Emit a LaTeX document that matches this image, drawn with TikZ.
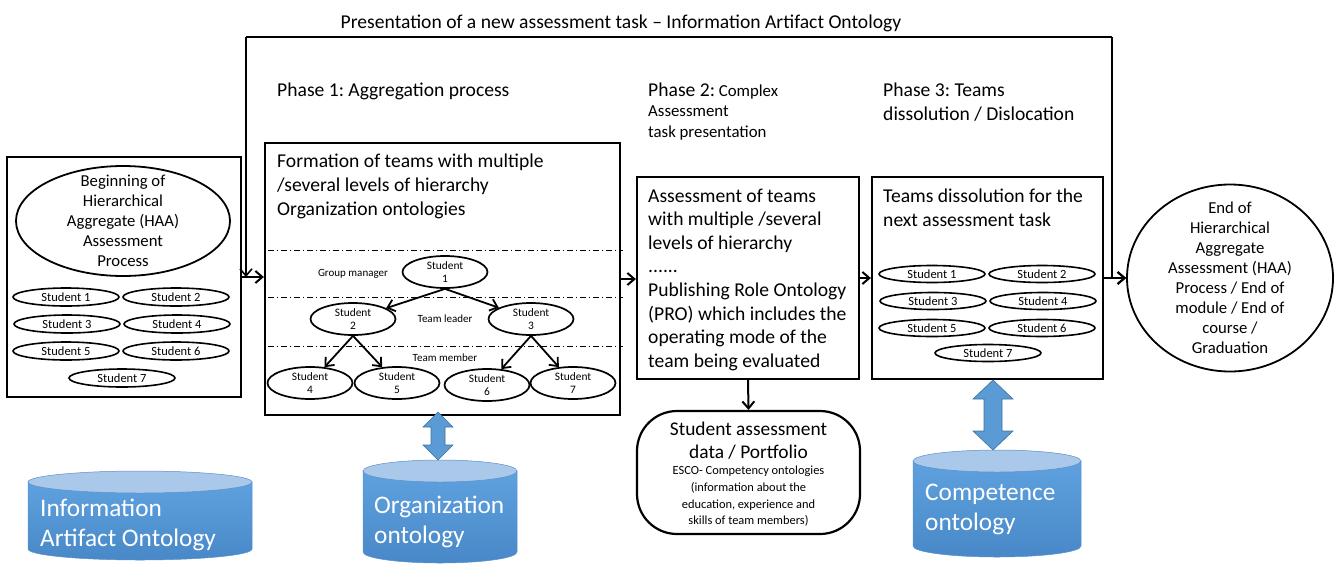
\documentclass[tikz,border=0pt]{standalone}
\usepackage{fontspec}
\setmainfont{Carlito}
\usepackage{tikz}
\usetikzlibrary{arrows, arrows.meta, shapes.geometric}
\frenchspacing

\definecolor{dbtop}{HTML}{A9C8EA}
\definecolor{dbhi}{HTML}{5FA1DE}
\definecolor{dblo}{HTML}{4888C8}
\definecolor{dbline}{HTML}{5B8FC9}
\definecolor{arrfill}{HTML}{5B9BD5}
\definecolor{arrline}{HTML}{41719C}

\tikzset{
  box/.style={draw, line width=2.2pt, inner sep=0pt},
  stud/.style={ellipse, draw, line width=1.6pt, inner sep=0pt, minimum width=106pt, minimum height=18pt, font=\fontsize{12.5}{14}\selectfont},
  tstud/.style={ellipse, draw, line width=1.7pt, inner xsep=0pt, inner ysep=-1pt, minimum width=85pt, minimum height=32pt, align=center, font=\fontsize{11.4}{12.5}\selectfont},
  bigtxt/.style={font=\fontsize{19.6}{24}\selectfont, align=left, inner sep=0pt},
  midtxt/.style={font=\fontsize{16.7}{20}\selectfont, align=center, inner sep=0pt},
  smalltxt/.style={font=\fontsize{11}{12}\selectfont, inner sep=0pt},
  dbtext/.style={font=\fontsize{25.3}{30}\selectfont, text=white, align=left, inner sep=0pt, anchor=north west},
  dblarr/.style={draw=arrline, fill=arrfill, line width=0.6pt, line join=miter},
  >={Straight Barb[length=7pt,width=12pt]},
  link/.style={->, line width=2pt},
}

\begin{document}
\begin{tikzpicture}[x=1pt, y=-1pt]
\useasboundingbox (0,0) rectangle (1337,576);

% headings
\node[bigtxt] (title) at (621,23) {Presentation of a new assessment task – Information Artifact Ontology};
\node[bigtxt, anchor=north west] (ph1) at (277,82.5) {Phase 1: Aggregation process};
\node[font=\fontsize{16.8}{20.5}\selectfont, align=left, inner sep=0pt, anchor=north west] (ph2) at (648,82.5) {{\fontsize{19.6}{20.5}\selectfont Phase 2:} Complex\\Assessment\\task presentation};
\node[bigtxt, anchor=north west] (ph3) at (883,82.5) {Phase 3: Teams\\dissolution / Dislocation};

% start box
\node[box, minimum width=234pt, minimum height=240pt] (boxA) at (124,277) {};
\node[ellipse, draw, line width=1.8pt, minimum width=214pt, minimum height=110pt, inner sep=0pt,
  label={[midtxt]center:Beginning of\\Hierarchical\\Aggregate (HAA)\\Assessment\\Process}] (begin) at (123,221) {};
\begin{scope}[every node/.style={stud}]
  \node (a1) at (66,297) {Student 1};
  \node (a2) at (176,297) {Student 2};
  \node (a3) at (67,324) {Student 3};
  \node (a4) at (177,324) {Student 4};
  \node (a5) at (66,351) {Student 5};
  \node (a6) at (176,351) {Student 6};
  \node (a7) at (122,378) {Student 7};
\end{scope}

% phase 1
\node[box, minimum width=355pt, minimum height=272pt] (boxB) at (442.5,279) {};
\node[bigtxt, anchor=north west] (formtxt) at (277,153.5) {Formation of teams with multiple\\/several levels of hierarchy\\Organization ontologies};
\foreach \y in {250,297,346}
  \draw[dash pattern=on 6pt off 3pt on 1pt off 3pt, line width=0.8pt] (268,\y) -- (623,\y);

\begin{scope}[every node/.style={tstud}]
  \node (s1) at (445,272) {Student\\1};
  \node (s2) at (353,319) {Student\\2};
  \node (s3) at (531,319) {Student\\3};
  \node (s4) at (310,383) {Student\\4};
  \node (s5) at (397,383) {Student\\5};
  \node (s6) at (487,385) {Student\\6};
  \node (s7) at (573,383) {Student\\7};
\end{scope}
\node[smalltxt] (gm) at (353,274) {Group manager};
\node[smalltxt] (tl) at (445,319) {Team leader};
\node[smalltxt] (tm) at (445,358) {Team member};

\path[->, line width=1.8pt] (s1.south) edge (s2);
\path[->, line width=1.8pt] (s1.south) edge (s3);
\path[->, line width=1.8pt] (s2.south) edge (s4);
\path[->, line width=1.8pt] (s2.south) edge (s5);
\path[->, line width=1.8pt] (s3.south) edge (s6);
\path[->, line width=1.8pt] (s3.south) edge (s7);

% phase 2
\node[box, minimum width=222pt, minimum height=202pt] (boxC) at (748,278) {};
\node[font=\fontsize{19.6}{23.6}\selectfont, align=left, inner sep=0pt, anchor=north west] (assess) at (648,188.5) {Assessment of teams\\with multiple /several\\levels of hierarchy\\......\\Publishing Role Ontology\\(PRO) which includes the\\operating mode of the\\team being evaluated};

\node[box, rounded corners=40pt, minimum width=223pt, minimum height=123pt] (portf) at (748.5,472.5) {};
\node[font=\fontsize{19.4}{23}\selectfont, align=center, inner sep=0pt, anchor=north] (portftxt) at (748.5,421.5) {Student assessment\\data / Portfolio};
\node[font=\fontsize{12.4}{16.7}\selectfont, align=center, inner sep=0pt, anchor=north] (esco) at (748.5,466) {ESCO- Competency ontologies\\(information about the\\education, experience and\\skills of team members)};

% phase 3
\node[box, minimum width=231pt, minimum height=202pt] (boxD) at (987.5,278) {};
\node[bigtxt, anchor=north west] (dissol) at (883,188.5) {Teams dissolution for the\\next assessment task};
\begin{scope}[every node/.style={stud, minimum height=17pt}]
  \node (d1) at (932,274) {Student 1};
  \node (d2) at (1042,274) {Student 2};
  \node (d3) at (933,301) {Student 3};
  \node (d4) at (1043,301) {Student 4};
  \node (d5) at (932,328) {Student 5};
  \node (d6) at (1042,328) {Student 6};
  \node (d7) at (988,353) {Student 7};
\end{scope}

% end
\node[ellipse, draw, line width=1.8pt, minimum width=206pt, minimum height=187pt, inner sep=0pt,
  label={[midtxt]center:End of\\Hierarchical\\Aggregate\\Assessment (HAA)\\Process / End of\\module / End of\\course /\\Graduation}] (finish) at (1230,278) {};

% flow
\draw[link] (boxA.east) -- (boxA.east -| boxB.west);
\draw[link] (boxB.east) -- (boxB.east -| boxC.west);
\draw[link] (boxC.east) -- (boxC.east -| boxD.west);
\draw[link] (boxD.east) -- (boxD.east -| finish.west);
\draw[link] (boxC.south) -- (portf.north);

\coordinate (loopL) at (246,37);
\coordinate (loopR) at (1112,37);
\draw[line width=2.6pt] (loopL) -- (loopR);
\draw[link, line width=1.6pt] (loopL) -- (loopL |- boxA.east);
\draw[link] (loopR) -- (loopR |- finish.west) -- (finish.west);

% databases
\shade[top color=dbhi, bottom color=dblo, draw=dbline, line width=0.5pt] (28,482) -- (28,549) arc[start angle=180, end angle=0, x radius=112, y radius=11] -- (252,482) -- cycle;
\filldraw[fill=dbtop, draw=dbline, line width=0.5pt] (140,482) ellipse[x radius=112, y radius=11];
\node[dbtext] (iao) at (40,499) {Information\\Artifact Ontology};

\shade[top color=dbhi, bottom color=dblo, draw=dbline, line width=0.5pt] (363,471) -- (363,552) arc[start angle=180, end angle=0, x radius=77, y radius=11] -- (517,471) -- cycle;
\filldraw[fill=dbtop, draw=dbline, line width=0.5pt] (440,471) ellipse[x radius=77, y radius=11];
\node[dbtext] (orgont) at (374,496) {Organization\\ontology};

\shade[top color=dbhi, bottom color=dblo, draw=dbline, line width=0.5pt] (913,461) -- (913,546) arc[start angle=180, end angle=0, x radius=84, y radius=11] -- (1081,461) -- cycle;
\filldraw[fill=dbtop, draw=dbline, line width=0.5pt] (997,461) ellipse[x radius=84, y radius=11];
\node[dbtext] (compont) at (925,484) {Competence\\ontology};

% block arrows to the ontologies
\filldraw[dblarr] (438,412) -- (453,427) -- (445,427) -- (445,445) -- (453,445) -- (438,460)
  -- (423,445) -- (431,445) -- (431,427) -- (423,427) -- cycle;
\filldraw[dblarr] (993,380) -- (1013,399) -- (1002,399) -- (1002,431) -- (1013,431) -- (993,450)
  -- (973,431) -- (984,431) -- (984,399) -- (973,399) -- cycle;

\end{tikzpicture}
\end{document}
